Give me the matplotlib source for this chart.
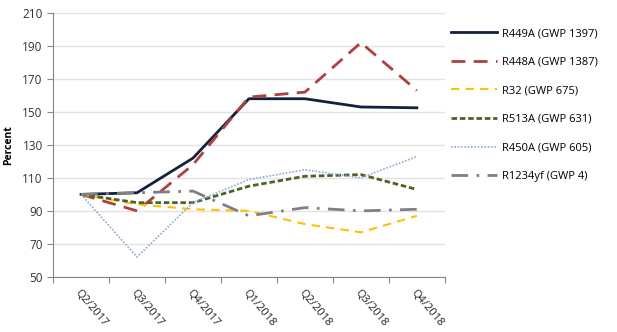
import matplotlib.pyplot as plt

quarters = ['Q2/2017', 'Q3/2017', 'Q4/2017', 'Q1/2018', 'Q2/2018', 'Q3/2018', 'Q4/2018']
r449a = [100, 101, 122, 158, 158, 153, 152.5]
r448a = [100, 90, 118, 159, 162, 192, 163]
r32 = [100, 94, 91, 90, 82, 77, 87]
r513a = [100, 95, 95, 105, 111, 112, 103]
r450a = [100, 62, 95, 109, 115, 110, 123]
r1234yf = [100, 101, 102, 87, 92, 90, 91]

series = [
    ('R449A (GWP 1397)', r449a, '#14213D', '-', 2.0),
    ('R448A (GWP 1387)', r448a, '#B0403E', (0, (5, 3)), 2.0),
    ('R32 (GWP 675)', r32, '#FFC000', (0, (4, 3)), 1.5),
    ('R513A (GWP 631)', r513a, '#4F6228', (0, (2, 1)), 2.0),
    ('R450A (GWP 605)', r450a, '#8EA9DB', (0, (1, 1)), 1.2),
    ('R1234yf (GWP 4)', r1234yf, '#808080', (0, (6, 3, 1, 3)), 2.0),
]

plt.rcParams['font.family'] = ['Open Sans', 'DejaVu Sans']
fig = plt.figure(figsize=(6.17, 3.32), dpi=100)
ax = fig.add_axes([0.086, 0.166, 0.635, 0.795])

x = range(len(quarters))
for label, vals, color, ls, lw in series:
    ax.plot(x, vals, color=color, linestyle=ls, linewidth=lw, label=label)

ax.set_ylim(50, 210)
ax.set_yticks(range(50, 211, 20))
ax.set_xlim(-0.5, len(quarters) - 0.5)
ax.set_xticks([i - 0.5 for i in range(len(quarters) + 1)])
ax.set_xticklabels([])
ax.set_xticks(list(x), minor=True)
ax.set_xticklabels(quarters, minor=True, rotation=-50, ha='left', va='top',
                   rotation_mode='anchor', fontsize=8, color='#222222')
ax.tick_params(axis='x', which='minor', length=0, pad=8)
ax.tick_params(axis='x', which='major', length=4, color='#868686')
ax.tick_params(axis='y', length=4, color='#868686', labelsize=8.5, labelcolor='#333333')

ax.grid(axis='y', color='#E3E3E3', linewidth=1)
ax.set_axisbelow(True)
for s in ['top', 'right']:
    ax.spines[s].set_visible(False)
ax.spines['left'].set_color('#868686')
ax.spines['bottom'].set_color('#868686')

ax.set_ylabel('Percent', fontsize=7.5, fontweight='bold', labelpad=6)

fig.legend(loc='upper left', bbox_to_anchor=(0.715, 0.945), frameon=False,
           fontsize=8, handlelength=4.1, labelspacing=1.58, handletextpad=0.45)

fig.savefig('out.png', dpi=100)
